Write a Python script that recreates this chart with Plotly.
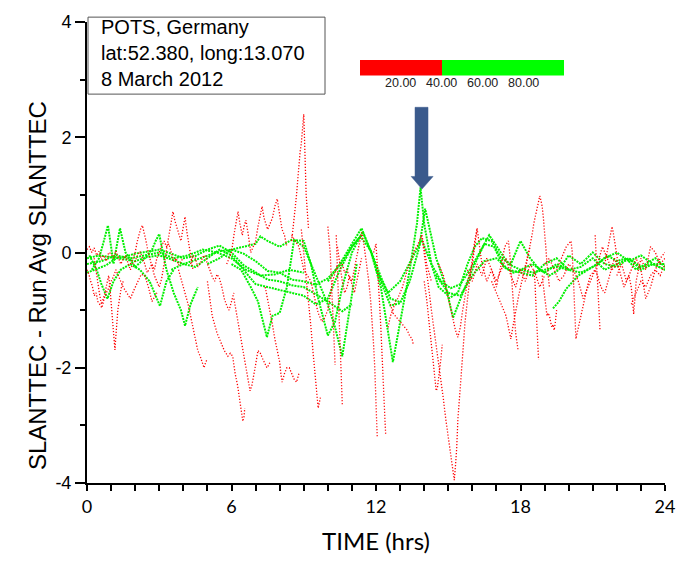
import plotly.graph_objects as go

# ---- slant TEC residual tracks (hours, TECU) ----
# low elevation passes (< 40 deg)
r1_t = [0.0, 0.1, 0.2, 0.3, 0.4, 0.5, 0.6, 0.7, 0.8, 0.9, 1.0, 1.1, 1.2, 1.3, 1.4, 1.5, 1.6, 1.7, 1.8, 1.9, 2.0,
        2.1, 2.2, 2.3, 2.4, 2.5, 2.6, 2.7, 2.8, 2.9, 3.0, 3.1, 3.2, 3.3, 3.4, 3.5, 3.6, 3.7, 3.8, 3.9, 4.0]
r1_v = [0.05, 0.1, 0.0, 0.08, -0.05, 0.02, -0.12, -0.05, -0.15, 0.0, -0.02, -0.1, 0.03, -0.08, -0.2, -0.12, -0.05,
        -0.18, -0.3, -0.2, -0.15, -0.05, 0.02, -0.1, -0.2, -0.35, -0.28, -0.2, -0.3, -0.1, 0.0, 0.12, 0.2, 0.1,
        0.15, 0.0, -0.15, -0.1, -0.22, -0.15, -0.1]
r2_t = [0.3, 0.38, 0.45, 0.52, 0.6, 0.68, 0.75, 0.82, 0.9, 0.95, 1.0, 1.05, 1.1, 1.13, 1.16, 1.19, 1.22, 1.28,
        1.35, 1.42, 1.5]
r2_v = [-0.1, -0.35, -0.5, -0.72, -0.9, -0.8, -0.7, -0.55, -0.4, -0.6, -0.9, -1.15, -1.4, -1.55, -1.69, -1.5,
        -1.3, -1.0, -0.8, -0.62, -0.5]
r3_t = [0.0, 0.08, 0.15, 0.22, 0.3, 0.38, 0.45, 0.53, 0.62, 0.7, 0.8, 0.9, 1.0, 1.1, 1.2, 1.35, 1.5, 1.65, 1.8,
        1.95, 2.1, 2.25, 2.4, 2.55, 2.7, 2.8, 2.9]
r3_v = [-0.3, -0.38, -0.5, -0.58, -0.75, -0.7, -0.85, -0.9, -0.96, -0.82, -0.7, -0.62, -0.5, -0.42, -0.3, -0.45,
        -0.6, -0.7, -0.8, -0.65, -0.5, -0.38, -0.4, -0.6, -0.85, -0.78, -0.7]
r4_t = [1.8, 1.9, 2.0, 2.08, 2.15, 2.22, 2.3, 2.38, 2.45, 2.52, 2.6, 2.7, 2.8, 2.9, 3.0, 3.1, 3.2, 3.3, 3.4, 3.48,
        3.57, 3.65, 3.75, 3.83, 3.9, 3.98, 4.07, 4.15, 4.25, 4.32, 4.4]
r4_v = [-0.2, -0.1, 0.0, 0.18, 0.3, 0.4, 0.47, 0.35, 0.2, 0.05, -0.1, -0.25, -0.4, -0.5, -0.6, -0.45, -0.2, 0.05,
        0.3, 0.55, 0.71, 0.55, 0.4, 0.3, 0.2, 0.4, 0.62, 0.35, 0.1, -0.1, -0.3]
r5_t = [3.8, 3.9, 4.0, 4.1, 4.2, 4.3, 4.4, 4.5, 4.6, 4.7, 4.78, 4.86, 4.93, 5.0]
r5_v = [-0.3, -0.45, -0.6, -0.75, -0.9, -1.1, -1.3, -1.5, -1.7, -1.8, -1.92, -2.0, -1.9, -1.85]
r6_t = [4.3, 4.4, 4.5, 4.6, 4.7, 4.8, 4.9, 5.0, 5.1, 5.2, 5.3, 5.4, 5.5, 5.6, 5.7, 5.8, 5.9, 6.0, 6.1]
r6_v = [-0.2, -0.05, -0.1, -0.25, -0.2, -0.08, -0.05, -0.2, -0.3, -0.42, -0.5, -0.38, -0.45, -0.6, -0.8, -0.92,
        -1.0, -0.85, -0.7]
r7_t = [5.0, 5.1, 5.2, 5.3, 5.4, 5.5, 5.6, 5.7, 5.85, 5.95, 6.05, 6.15, 6.25, 6.35, 6.42, 6.47, 6.52, 6.55]
r7_v = [-0.5, -0.8, -1.1, -1.25, -1.4, -1.5, -1.6, -1.7, -1.8, -1.75, -1.8, -2.1, -2.3, -2.6, -2.8, -2.93, -2.85,
        -2.7]
r8_t = [5.8, 5.9, 6.0, 6.1, 6.2, 6.27, 6.35, 6.45, 6.52, 6.6, 6.7, 6.8, 6.9, 7.0, 7.1, 7.2, 7.27, 7.35, 7.5, 7.6,
        7.7, 7.8, 7.9, 8.0, 8.1, 8.2, 8.3]
r8_v = [-0.2, -0.1, 0.0, 0.3, 0.55, 0.71, 0.5, 0.3, 0.45, 0.56, 0.3, 0.0, 0.1, 0.2, 0.45, 0.7, 0.8, 0.6, 0.4, 0.5,
        0.6, 0.8, 0.93, 0.65, 0.4, 0.3, 0.1]
r9_t = [6.1, 6.2, 6.3, 6.4, 6.5, 6.6, 6.7, 6.77, 6.85, 6.9, 7.0, 7.1, 7.2, 7.3, 7.4, 7.47, 7.55, 7.6]
r9_v = [-0.8, -1.05, -1.3, -1.55, -1.8, -2.05, -2.25, -2.4, -2.3, -2.2, -1.95, -1.7, -1.75, -1.85, -1.95, -2.0,
        -1.95, -1.9]
r10_t = [7.4, 7.5, 7.6, 7.7, 7.8, 7.9, 8.0, 8.05, 8.1, 8.2, 8.3, 8.4, 8.5, 8.6, 8.7, 8.8]
r10_v = [-0.6, -0.8, -1.0, -1.25, -1.5, -1.7, -1.9, -2.1, -2.25, -2.1, -2.0, -2.0, -2.1, -2.2, -2.25, -2.1]
r11_t = [8.5, 8.55, 8.6, 8.65, 8.7, 8.75, 8.8, 8.85, 8.9, 8.95, 9.0, 9.03, 9.05, 9.08, 9.1, 9.15, 9.2]
r11_v = [0.2, 0.45, 0.6, 0.8, 1.0, 1.3, 1.5, 1.75, 1.9, 2.2, 2.4, 2.0, 1.6, 1.2, 1.0, 0.7, 0.4]
r12_t = [8.9, 9.0, 9.1, 9.2, 9.3, 9.4, 9.5, 9.6, 9.65, 9.7]
r12_v = [0.4, 0.0, -0.4, -0.8, -1.3, -1.8, -2.3, -2.7, -2.6, -2.5]
r13_t = [8.5, 8.65, 8.8, 8.9, 9.0, 9.15, 9.3, 9.4, 9.5, 9.6, 9.75, 9.85, 10.0, 10.1, 10.2, 10.3, 10.4]
r13_v = [0.3, 0.2, 0.1, -0.1, -0.3, -0.4, -0.5, -0.7, -0.9, -1.05, -1.2, -1.15, -1.0, -0.75, -0.5, -0.35, -0.2]
r14_t = [10.0, 10.05, 10.1, 10.13, 10.16, 10.2, 10.23, 10.26, 10.3]
r14_v = [0.45, 0.25, 0.0, -0.3, -0.6, -1.0, -1.3, -1.6, -1.95]
r15_t = [10.35, 10.38, 10.4, 10.43, 10.46, 10.5, 10.53, 10.56, 10.6]
r15_v = [0.3, 0.0, -0.3, -0.7, -1.0, -1.5, -1.9, -2.3, -2.65]
r16_t = [10.6, 10.7, 10.8, 10.9, 11.0, 11.1, 11.2, 11.3, 11.4, 11.48, 11.55, 11.62, 11.7, 11.78, 11.85, 11.9,
         11.95, 12.0, 12.05]
r16_v = [-0.2, -0.35, -0.3, -0.45, -0.5, -0.3, -0.1, 0.15, 0.35, 0.2, 0.0, -0.25, -0.5, -0.85, -1.2, -1.6, -2.0,
         -2.7, -3.2]
r17_t = [11.9, 11.95, 12.0, 12.05, 12.1, 12.15, 12.2, 12.25, 12.3, 12.35, 12.4]
r17_v = [0.0, 0.1, 0.15, -0.2, -0.5, -0.9, -1.3, -1.75, -2.2, -2.8, -3.15]
r18_t = [12.5, 12.6, 12.7, 12.8, 12.9, 13.0, 13.1, 13.2, 13.3, 13.4, 13.5, 13.6, 13.7, 13.8, 13.9, 14.0, 14.1,
         14.2, 14.3]
r18_v = [-1.3, -1.1, -1.0, -0.85, -0.8, -0.7, -0.6, -0.45, -0.3, -0.2, -0.1, 0.05, 0.1, 0.2, 0.3, 0.1, -0.2,
         -0.35, -0.5]
r19_t = [12.6, 12.7, 12.8, 12.9, 13.0, 13.1, 13.2, 13.3, 13.4, 13.5, 13.55]
r19_v = [-0.9, -1.05, -1.1, -1.15, -1.2, -1.25, -1.3, -1.35, -1.45, -1.5, -1.6]
r20_t = [13.9, 14.0, 14.1, 14.2, 14.3, 14.4, 14.5, 14.6, 14.7, 14.8, 14.9, 15.0, 15.05, 15.1, 15.15, 15.2, 15.25,
         15.3, 15.35, 15.4, 15.5, 15.6, 15.7, 15.8, 15.9, 16.0, 16.1, 16.2]
r20_v = [0.3, 0.0, -0.3, -0.65, -1.0, -1.3, -1.6, -1.9, -2.2, -2.55, -2.9, -3.2, -3.4, -3.55, -3.7, -3.85, -3.95,
         -3.7, -3.4, -2.9, -2.3, -1.7, -1.2, -0.8, -0.4, -0.1, 0.2, 0.42]
r21_t = [14.0, 14.1, 14.2, 14.3, 14.35, 14.4, 14.45, 14.5, 14.55, 14.6, 14.68, 14.75]
r21_v = [-0.5, -0.8, -1.2, -1.6, -1.9, -2.1, -2.3, -2.4, -2.35, -2.2, -1.9, -1.6]
r22_t = [14.6, 14.7, 14.8, 14.9, 15.0, 15.1, 15.2, 15.3, 15.4, 15.5, 15.6, 15.7, 15.8, 15.9, 16.0]
r22_v = [-0.2, -0.3, -0.4, -0.6, -0.8, -1.0, -1.2, -1.35, -1.47, -1.3, -1.0, -0.75, -0.5, -0.35, -0.2]
r23_t = [16.0, 16.1, 16.2, 16.3, 16.4, 16.5, 16.6, 16.7, 16.8, 16.9, 17.0, 17.1, 17.2, 17.3, 17.35, 17.42, 17.5,
         17.55, 17.6, 17.65, 17.7, 17.75, 17.8, 17.85, 17.9]
r23_v = [-0.2, 0.1, 0.42, 0.1, -0.2, -0.35, -0.5, -0.4, -0.3, -0.45, -0.6, -0.4, -0.2, 0.0, 0.1, 0.15, 0.2, 0.0,
         -0.3, -0.6, -0.9, -1.15, -1.4, -1.55, -1.7]
r24_t = [16.8, 16.9, 17.0, 17.1, 17.2, 17.3, 17.4, 17.5, 17.6, 17.7, 17.8, 17.9, 18.0, 18.1, 18.2, 18.3, 18.4]
r24_v = [-0.5, -0.6, -0.7, -0.8, -0.9, -1.0, -1.1, -1.3, -1.5, -1.25, -1.0, -0.8, -0.6, -0.4, -0.2, -0.05, 0.1]
r25_t = [18.2, 18.3, 18.4, 18.5, 18.55, 18.6, 18.65, 18.7, 18.75, 18.8, 18.85, 18.9, 18.95, 19.0, 19.05, 19.1,
         19.15, 19.2]
r25_v = [-0.3, -0.1, 0.1, 0.35, 0.5, 0.6, 0.7, 0.8, 0.9, 0.98, 0.9, 0.8, 0.6, 0.4, 0.1, -0.2, -0.4, -0.6]
r26_t = [18.55, 18.6, 18.63, 18.66, 18.7, 18.73, 18.75]
r26_v = [-0.3, -0.5, -0.8, -1.1, -1.45, -1.7, -1.86]
r27_t = [18.9, 19.0, 19.05, 19.1, 19.15, 19.2, 19.25, 19.3, 19.35, 19.4, 19.45, 19.5]
r27_v = [-0.4, -0.8, -0.95, -1.1, -1.05, -1.1, -1.2, -1.3, -1.25, -1.35, -1.2, -1.0]
r28_t = [19.5, 19.6, 19.7, 19.8, 19.9, 20.0, 20.1, 20.15, 20.2, 20.25, 20.3, 20.35, 20.4, 20.5, 20.6, 20.7, 20.8,
         20.9, 21.0, 21.1, 21.2, 21.3, 21.4, 21.5, 21.6, 21.7, 21.8, 21.9, 22.0, 22.1]
r28_v = [-0.3, -0.2, -0.1, 0.0, 0.1, 0.15, 0.2, 0.0, -0.5, -1.0, -1.5, -1.4, -1.3, -1.1, -0.9, -0.7, -0.55, -0.4,
         -0.35, -0.3, -0.4, -0.55, -0.65, -0.7, -0.55, -0.4, -0.25, -0.1, -0.2, -0.3]
r29_t = [21.1, 21.13, 21.15, 21.18, 21.2, 21.23, 21.25, 21.28, 21.3]
r29_v = [0.3, 0.05, -0.2, -0.45, -0.7, -0.9, -1.1, -1.25, -1.35]
r30_t = [21.5, 21.6, 21.7, 21.75, 21.8, 21.85, 21.9, 22.0, 22.1, 22.2, 22.3, 22.4, 22.5, 22.6, 22.65, 22.7, 22.75,
         22.8, 22.9, 23.0, 23.1, 23.2, 23.3, 23.4, 23.5, 23.6, 23.7, 23.8, 23.9, 24.0]
r30_v = [-0.2, 0.0, 0.2, 0.35, 0.45, 0.35, 0.2, -0.05, -0.3, -0.45, -0.6, -0.5, -0.4, -0.6, -0.85, -1.07, -0.8,
         -0.5, -0.3, -0.1, -0.2, -0.3, -0.1, 0.1, 0.05, 0.0, -0.1, -0.2, -0.15, -0.1]
r31_t = [22.0, 22.1, 22.2, 22.3, 22.4, 22.5, 22.6, 22.7, 22.8, 22.9, 23.0, 23.1, 23.2, 23.3, 23.4, 23.5, 23.6,
         23.7, 23.8, 23.9, 24.0]
r31_v = [-0.4, -0.3, -0.2, -0.35, -0.5, -0.4, -0.3, -0.2, -0.1, -0.2, -0.3, -0.55, -0.8, -0.7, -0.6, -0.45, -0.3,
         -0.35, -0.4, -0.3, -0.2]
r32_t = [10.4, 10.5, 10.6, 10.7, 10.8, 10.9, 11.0, 11.1, 11.2, 11.3, 11.4]
r32_v = [0.1, -0.2, -0.5, -0.7, -0.6, -0.4, -0.55, -0.7, -0.5, -0.3, -0.1]
r33_t = [19.0, 19.2, 19.4, 19.6, 19.8, 20.0, 20.2, 20.4, 20.6, 20.8, 21.0, 21.2, 21.4, 21.6, 21.8, 22.0]
r33_v = [-0.2, -0.1, -0.3, -0.5, -0.4, -0.2, -0.3, -0.5, -0.8, -0.6, -0.4, -0.2, 0.1, -0.1, -0.3, -0.2]
r34_t = [15.8, 16.0, 16.2, 16.4, 16.6, 16.8, 17.0, 17.2, 17.4, 17.6, 17.8, 18.0, 18.2, 18.4, 18.6, 18.8, 19.0]
r34_v = [-0.3, -0.5, -0.2, -0.4, -0.1, -0.3, -0.5, -0.3, -0.1, -0.4, -0.6, -0.3, -0.5, -0.2, -0.35, -0.6, -0.4]
r35_t = [22.6, 22.8, 23.0, 23.2, 23.4, 23.6, 23.8, 24.0]
r35_v = [-0.9, -0.7, -0.5, -0.6, -0.4, -0.3, -0.1, 0.0]

# high elevation passes (>= 40 deg)
g1_t = [0, 0.5, 1, 1.5, 2, 2.5, 3, 3.5, 4, 4.5, 5, 5.5, 6, 6.5, 7, 7.5, 8, 8.5, 9, 9.5, 10, 10.5, 11, 11.35,
        11.8, 12.2, 12.6, 13.0]
g1_v = [-0.1, -0.05, -0.08, -0.12, -0.15, -0.08, -0.05, -0.12, -0.2, -0.13, -0.05, 0.02, 0.05, -0.02, -0.15,
        -0.32, -0.35, -0.47, -0.5, -0.56, -0.45, -0.22, 0.1, 0.28, 0.02, -0.42, -0.8, -0.86]
g2_t = [0, 0.4, 0.8, 1.2, 1.6, 2, 2.5, 3, 3.5, 4, 4.5, 5, 5.5, 6, 6.5, 7, 7.5, 8, 8.5, 9, 9.5, 10, 10.6, 11]
g2_v = [-0.35, -0.28, -0.22, -0.1, -0.07, -0.02, 0.02, 0.05, -0.02, -0.1, -0.06, 0.05, 0.12, 0.0, -0.22, -0.35,
        -0.47, -0.5, -0.57, -0.6, -0.72, -0.85, -1.02, -0.9]
g3_t = [0.2, 0.5, 0.7, 0.87, 1.0, 1.1, 1.25, 1.37, 1.6, 2.0, 2.4, 2.7, 2.85, 3.0, 3.15, 3.3, 3.6, 3.9, 4.07, 4.3, 4.6]
g3_v = [-0.3, -0.1, 0.2, 0.47, 0.1, -0.2, 0.15, 0.42, 0.0, -0.25, -0.1, 0.05, 0.2, 0.32, 0.0, -0.3, -0.7, -1.0,
        -1.27, -0.9, -0.6]
g4_t = [0.1, 0.4, 0.6, 0.85, 1.1, 1.4, 1.8, 2.2, 2.6, 2.8, 3.03, 3.3, 3.6]
g4_v = [-0.05, -0.3, -0.55, -0.8, -0.5, -0.3, -0.2, -0.3, -0.5, -0.7, -0.93, -0.5, -0.3]
g5_t = [5.0, 5.5, 6.0, 6.5, 7.0, 7.2, 7.5, 8.0, 8.5, 9.0, 9.3, 9.6, 10, 10.3, 10.6, 11, 11.45, 11.8, 12.2, 12.7,
        13.0, 13.4, 13.7, 13.85, 14.0, 14.3, 14.6, 15.0]
g5_v = [-0.2, -0.1, 0.05, 0.1, 0.15, 0.28, 0.2, 0.1, 0.22, 0.2, -0.2, -0.8, -1.44, -1.2, -0.6, 0.0, 0.36, 0.0,
        -0.6, -1.9, -1.2, -0.3, 0.5, 1.13, 0.5, -0.2, -0.6, -0.75]
g6_t = [6.0, 6.4, 6.8, 7.1, 7.47, 7.7, 8.0, 8.3, 8.6, 9.0, 9.5, 10.0, 10.3, 10.6, 10.9, 11.2]
g6_v = [-0.2, -0.3, -0.6, -0.85, -1.47, -1.1, -1.05, -0.6, 0.22, 0.1, -0.4, -0.9, -1.3, -1.8, -1.0, -0.2]
g7_t = [10.0, 10.5, 11.0, 11.4, 11.8, 12.2, 12.6, 13.0, 13.4, 13.8, 14.04, 14.5, 14.9, 15.2, 15.7, 16.1, 16.5,
        16.9, 17.3, 17.7, 18.1, 18.5, 19, 19.5, 20]
g7_v = [-0.5, -0.2, 0.15, 0.42, 0.0, -0.5, -0.92, -0.88, -0.5, 0.1, 0.76, -0.1, -0.6, -1.13, -0.6, -0.2, 0.15,
        0.1, -0.25, -0.35, -0.3, -0.35, -0.3, -0.25, -0.3]
g8_t = [12, 12.5, 13, 13.5, 13.9, 14.3, 14.7, 15.1, 15.5, 15.9, 16.3, 16.7, 17.1, 17.5, 18, 18.5, 19, 19.5, 20,
        20.5, 21, 21.5, 22, 22.5, 23, 23.5, 24]
g8_v = [-0.3, -0.7, -0.5, -0.1, 0.22, -0.2, -0.5, -0.62, -0.55, -0.3, 0.0, 0.3, 0.05, -0.2, -0.3, -0.2, -0.35,
        -0.2, -0.3, -0.25, -0.1, -0.3, -0.2, -0.1, -0.25, -0.2, -0.3]
g9_t = [15.0, 15.4, 15.8, 16.1, 16.4, 16.8, 17.2, 17.6, 18.0, 18.4, 18.8, 19.2, 19.6, 20.0, 20.5, 21.0, 21.5,
        22.0, 22.5, 23.0, 23.5, 24.0]
g9_v = [-0.8, -0.7, -0.2, 0.1, 0.25, 0.2, -0.1, -0.2, 0.2, -0.1, -0.3, -0.4, -0.3, -0.05, -0.2, 0.0, -0.2,
        -0.25, -0.1, -0.3, -0.2, -0.2]
g10_t = [19.35, 19.6, 19.9, 20.4, 20.8, 21.2, 21.6, 22.0, 22.4, 22.8, 23.2, 23.6, 24.0]
g10_v = [-0.97, -0.85, -0.63, -0.4, -0.3, -0.2, -0.05, -0.15, -0.1, -0.3, -0.2, -0.1, -0.25]
g11_t = [0, 0.6, 1.2, 1.8, 2.4, 3.0, 3.6, 4.2, 4.8, 5.4, 6.0, 6.6, 7.2, 7.8, 8.4, 9.0]
g11_v = [-0.2, -0.15, -0.05, -0.1, -0.05, 0.0, -0.1, -0.05, 0.05, 0.0, -0.1, -0.3, -0.4, -0.38, -0.3, -0.35]
g12_t = [3.5, 4.0, 4.5, 5.0, 5.5, 6.0, 6.5, 7.0, 7.5, 8.0, 8.5, 9.0, 9.5, 10.0, 10.5, 11.0, 11.4]
g12_v = [-0.3, -0.2, -0.25, -0.1, 0.05, -0.05, -0.3, -0.55, -0.6, -0.65, -0.7, -0.75, -0.9, -0.8, -0.3, 0.1, 0.3]
g13_t = [14.5, 15.0, 15.5, 16.0, 16.5, 17.0, 17.5, 18.0, 18.5, 19.0, 19.5, 20.0, 20.5, 21.0, 21.5, 22.0, 22.5,
         23.0, 23.5, 24.0]
g13_v = [-0.4, -0.7, -0.75, -0.4, -0.15, -0.1, -0.3, -0.35, -0.4, -0.2, -0.1, -0.3, -0.35, -0.25, -0.1, 0.0,
         -0.15, -0.05, -0.2, -0.3]

RED_TRACKS = [(r1_t, r1_v), (r2_t, r2_v), (r3_t, r3_v), (r4_t, r4_v), (r5_t, r5_v), (r6_t, r6_v),
              (r7_t, r7_v), (r8_t, r8_v), (r9_t, r9_v), (r10_t, r10_v), (r11_t, r11_v), (r12_t, r12_v),
              (r13_t, r13_v), (r14_t, r14_v), (r15_t, r15_v), (r16_t, r16_v), (r17_t, r17_v), (r18_t, r18_v),
              (r19_t, r19_v), (r20_t, r20_v), (r21_t, r21_v), (r22_t, r22_v), (r23_t, r23_v), (r24_t, r24_v),
              (r25_t, r25_v), (r26_t, r26_v), (r27_t, r27_v), (r28_t, r28_v), (r29_t, r29_v), (r30_t, r30_v),
              (r31_t, r31_v), (r32_t, r32_v), (r33_t, r33_v), (r34_t, r34_v), (r35_t, r35_v)]
GREEN_TRACKS = [(g1_t, g1_v), (g2_t, g2_v), (g3_t, g3_v), (g4_t, g4_v), (g5_t, g5_v),
                (g6_t, g6_v), (g7_t, g7_v), (g8_t, g8_v), (g9_t, g9_v), (g10_t, g10_v),
                (g11_t, g11_v), (g12_t, g12_v), (g13_t, g13_v)]

# elevation colour key
key_bounds = [0, 40, 100]
key_ticks = [20, 40, 60, 80]
key_labels = ["20.00", "40.00", "60.00", "80.00"]

x_ticks = [0, 6, 12, 18, 24]
y_ticks = [-4, -2, 0, 2, 4]
y_labels = ["-4", "-2", "0", "2", "4"]

RED = "#FF0000"
GREEN = "#00F000"

fig = go.Figure()

for t, v in GREEN_TRACKS:
    fig.add_trace(go.Scatter(x=t, y=v, mode="lines", hoverinfo="skip", showlegend=False,
                             line=dict(color=GREEN, width=2, dash="2px,1px")))
for t, v in RED_TRACKS:
    fig.add_trace(go.Scatter(x=t, y=v, mode="lines", hoverinfo="skip", showlegend=False,
                             line=dict(color=RED, width=1.3, dash="1.2px,1.8px")))

# colour key drawn on its own small axis pair
fig.add_trace(go.Bar(orientation="h", y=[0.5, 0.5],
                     x=[key_bounds[1] - key_bounds[0], key_bounds[2] - key_bounds[1]],
                     base=[key_bounds[0], key_bounds[1]], width=1,
                     marker=dict(color=[RED, "#00FF00"], line=dict(width=0)),
                     xaxis="x2", yaxis="y2", hoverinfo="skip", showlegend=False))

W, H = 687, 563
ML, MR, MT, MB = 87, 22, 14, 76
pw, ph = W - ML - MR, H - MT - MB


def px(xp):
    return (xp - ML) / pw


def py(yp):
    return (H - MB - yp) / ph


fig.update_layout(
    width=W, height=H,
    margin=dict(l=ML, r=MR, t=MT, b=MB),
    plot_bgcolor="white", paper_bgcolor="white",
    bargap=0,
    xaxis=dict(range=[0, 24], tickvals=x_ticks, ticks="outside", ticklen=6, tickwidth=1.5,
               tickcolor="black", showline=True, linecolor="black", linewidth=2,
               showgrid=False, zeroline=False,
               minor=dict(dtick=1, ticks="outside", ticklen=6, tickwidth=1.5, tickcolor="black"),
               tickfont=dict(family="Lato", size=18, color="black"),
               title=dict(text="TIME (hrs)", font=dict(family="Lato", size=24, color="black"), standoff=18)),
    yaxis=dict(range=[-4, 4], tickvals=y_ticks, ticktext=y_labels, ticks="outside", ticklen=10,
               tickwidth=1.5, tickcolor="black", showline=True, linecolor="black", linewidth=2,
               showgrid=False, zeroline=False,
               minor=dict(dtick=1, ticks="outside", ticklen=5, tickwidth=1.5, tickcolor="black"),
               tickfont=dict(family="Liberation Sans", size=18, color="black")),
    xaxis2=dict(domain=[px(360), px(564)], anchor="y2", range=[0, 100], showticklabels=False,
                ticks="", showline=False, showgrid=False, zeroline=False),
    yaxis2=dict(domain=[py(69), py(53)], anchor="x2", range=[0, 1], visible=False),
)

# colour key labels under the bar
for val, lab in zip(key_ticks, key_labels):
    fig.add_annotation(xref="x2", yref="paper", x=val, y=py(77), xanchor="center", yanchor="middle",
                       showarrow=False, text=lab,
                       font=dict(family="Liberation Sans", size=12.5, color="#222"))

# station info box
fig.add_shape(type="rect", xref="paper", yref="paper",
              x0=px(88), x1=px(325), y0=py(88), y1=py(9),
              line=dict(color="#555", width=1), fillcolor="white", layer="above")
fig.add_annotation(xref="paper", yref="paper", x=px(99), y=py(6), xanchor="left", yanchor="top",
                   align="left", showarrow=False,
                   text="POTS, Germany<br>lat:52.380, long:13.070<br>8 March 2012",
                   font=dict(family="Liberation Sans", size=20, color="black"))

# y-axis title
fig.add_annotation(xref="paper", yref="paper", x=px(37), y=py(285), xanchor="center", yanchor="middle",
                   textangle=-90, showarrow=False, text="SLANTTEC - Run Avg SLANTTEC",
                   font=dict(family="Liberation Sans", size=24, color="black"))

# arrow marking the peak near 13.9 h
ax_l, ax_r = 13.62, 14.16
hx_l, hx_r, tip_x = 13.46, 14.37, 13.91
top_y, base_y, tip_y = 2.52, 1.32, 1.10
fig.add_shape(type="path", xref="x", yref="y",
              path=(f"M {ax_l} {top_y} L {ax_r} {top_y} L {ax_r} {base_y} L {hx_r} {base_y} "
                    f"L {tip_x} {tip_y} L {hx_l} {base_y} L {ax_l} {base_y} Z"),
              fillcolor="#3A5A8C", line=dict(color="#3A5A8C", width=0.5), layer="above")

fig.write_html("out.html")
